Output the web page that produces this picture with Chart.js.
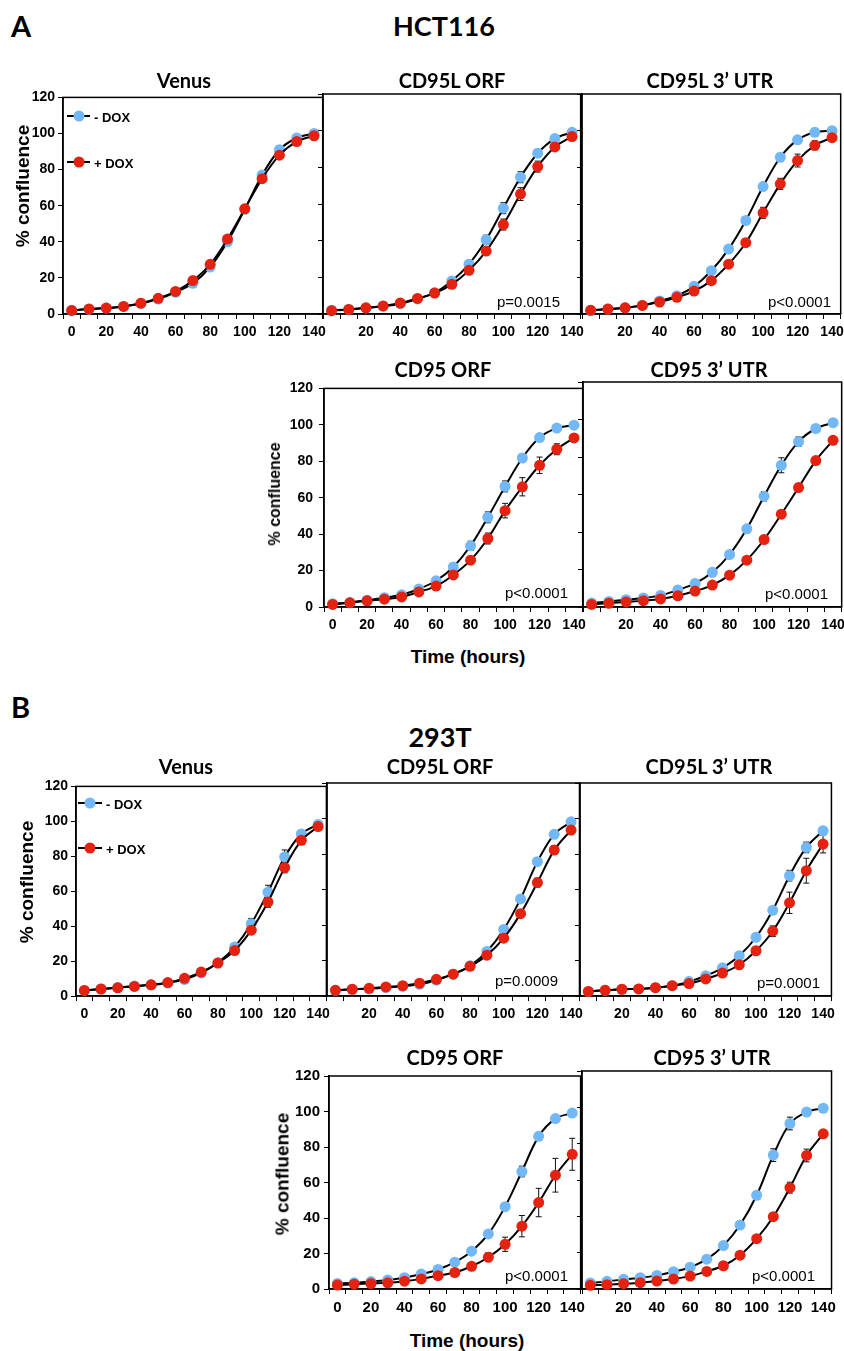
<!DOCTYPE html>
<html><head><meta charset="utf-8">
<script src="https://cdn.jsdelivr.net/npm/chart.js@4.4.0/dist/chart.umd.min.js"></script>
<style>
html,body{margin:0;padding:0;background:#fff;}
body{width:844px;height:1351px;position:relative;overflow:hidden;font-family:"Liberation Sans",Arial,sans-serif;color:#000;}
.t{position:absolute;white-space:nowrap;transform:translate(-50%,-50%);line-height:1;}
.l{position:absolute;white-space:nowrap;transform:translate(0,-50%);line-height:1;}
.hd{font-family:Lato,"Open Sans",sans-serif;font-weight:700;}
.yt{font-weight:700;transform:translate(-50%,-50%) rotate(-90deg);}
.pv{font-size:15px;}
.lg{font-weight:700;font-size:13px;}
.lgline{position:absolute;height:2px;background:#000;}
.lgdot{position:absolute;width:11px;height:11px;border-radius:50%;transform:translate(-50%,-50%);}
canvas{position:absolute;}
</style></head>
<body>
<script>
// ---------- data ----------
const times = [0,10,20,30,40,50,60,70,80,90,100,110,120,130,140];
const xTickLabels = ['0','20','40','60','80','100','120','140'];
const seriesNames = ['- DOX','+ DOX'];

// HCT116
const hctVenusMinus = [2.0,2.7,3.3,4.2,5.8,8.3,12.0,17.0,26.0,40.0,58.0,77.0,91.0,97.5,100.0];
const hctVenusPlus  = [2.0,2.8,3.3,4.2,6.0,8.7,12.5,18.5,27.5,41.5,58.3,75.0,88.0,95.5,98.7];
const hctVenusMinusErr = [0.3,0.3,0.3,0.4,0.5,0.6,0.8,1.0,1.2,1.5,1.5,1.8,1.5,1.0,0.6];
const hctVenusPlusErr  = [0.3,0.3,0.3,0.4,0.5,0.6,0.8,1.0,1.2,1.5,1.5,1.8,1.8,1.2,0.8];

const hctCD95LOrfMinus = [2.0,2.5,3.3,4.2,5.6,8.2,11.6,18.0,27.2,40.5,57.7,74.6,87.7,95.7,99.1];
const hctCD95LOrfPlus  = [1.8,2.5,3.4,4.4,6.0,8.5,11.4,16.2,23.8,34.3,48.8,65.4,80.4,91.1,96.8];
const hctCD95LOrfMinusErr = [0.3,0.3,0.3,0.4,0.5,0.6,0.8,1.0,1.5,2.5,3.0,3.0,2.0,1.0,0.6];
const hctCD95LOrfPlusErr  = [0.3,0.3,0.3,0.4,0.5,0.6,0.8,1.0,1.5,2.0,3.0,3.5,3.0,1.5,1.0];

const hctCD95LUtrMinus = [2.0,2.7,3.4,4.7,7.1,10.0,15.1,23.6,35.4,51.0,69.5,85.5,95.0,99.1,100.0];
const hctCD95LUtrPlus  = [2.0,2.7,3.4,4.7,6.5,9.1,12.5,18.2,27.2,38.9,55.2,71.0,83.7,92.0,96.2];
const hctCD95LUtrMinusErr = [0.3,0.3,0.3,0.4,0.5,0.6,0.8,1.0,1.5,2.0,2.0,2.0,1.0,0.6,0.5];
const hctCD95LUtrPlusErr  = [0.3,0.3,0.3,0.4,0.5,0.6,0.8,1.0,1.5,2.0,3.0,3.0,3.5,2.5,1.5];

const hctCD95OrfMinus = [1.8,2.5,3.7,5.1,6.7,9.9,14.4,22.0,33.6,49.2,66.2,81.8,93.0,98.2,99.8];
const hctCD95OrfPlus  = [1.4,2.3,3.4,4.3,5.5,8.3,11.5,17.6,25.7,37.6,52.9,66.0,77.8,86.6,92.8];
const hctCD95OrfMinusErr = [0.3,0.3,0.3,0.4,0.5,0.6,0.8,1.0,2.5,3.0,3.0,2.0,1.0,0.8,0.5];
const hctCD95OrfPlusErr  = [0.3,0.3,0.3,0.4,0.5,0.6,0.8,1.0,1.5,3.0,4.0,5.0,4.5,3.0,1.5];

const hctCD95UtrMinus = [2.1,3.0,3.9,4.8,6.2,9.1,12.6,18.5,28.0,41.7,59.1,75.6,88.2,95.2,98.3];
const hctCD95UtrPlus  = [1.4,2.0,2.7,3.4,4.3,6.0,8.5,11.7,17.0,25.0,36.0,49.5,63.7,78.1,88.9];
const hctCD95UtrMinusErr = [0.3,0.3,0.3,0.4,0.5,0.6,0.8,1.0,1.2,1.5,2.5,4.0,2.5,1.0,0.6];
const hctCD95UtrPlusErr  = [0.3,0.3,0.3,0.4,0.5,0.6,0.8,1.0,1.0,1.2,1.5,1.5,1.5,1.5,2.0];

// 293T
const t293VenusMinus = [3.2,4.0,4.9,5.7,6.4,7.5,9.4,13.2,19.0,28.0,41.4,59.4,79.6,92.8,98.2];
const t293VenusPlus  = [3.2,4.0,4.7,5.5,6.4,7.7,10.1,13.7,18.9,26.0,37.7,53.8,73.5,89.1,97.0];
const t293VenusMinusErr = [0.3,0.3,0.3,0.4,0.5,0.6,0.8,1.0,1.2,1.5,3.0,4.0,4.0,2.0,1.0];
const t293VenusPlusErr  = [0.3,0.3,0.3,0.4,0.5,0.6,0.8,1.0,1.2,1.5,2.0,3.0,3.0,2.0,1.5];

const t293CD95LOrfMinus = [3.2,3.8,4.0,4.7,5.5,6.6,8.9,12.3,17.0,25.1,37.5,54.7,75.7,91.1,98.1];
const t293CD95LOrfPlus  = [3.2,3.8,4.3,5.1,5.8,7.2,9.4,12.3,16.7,23.0,32.6,46.4,63.9,82.2,93.5];
const t293CD95LOrfMinusErr = [0.3,0.3,0.3,0.4,0.5,0.6,0.8,1.0,1.2,1.5,1.5,2.0,2.0,1.5,0.8];
const t293CD95LOrfPlusErr  = [0.3,0.3,0.3,0.4,0.5,0.6,0.8,1.0,1.2,1.5,1.5,2.0,2.5,2.5,1.5];

const t293CD95LUtrMinus = [2.6,3.2,3.8,4.0,4.7,5.8,8.1,11.4,15.9,22.7,33.1,48.3,67.8,83.7,93.1];
const t293CD95LUtrPlus  = [2.6,3.2,3.8,4.0,4.7,5.8,7.0,9.6,12.9,17.6,25.5,36.5,52.5,70.6,85.6];
const t293CD95LUtrMinusErr = [0.3,0.3,0.3,0.4,0.5,0.6,0.8,1.0,1.2,1.5,1.5,2.0,3.0,3.0,2.0];
const t293CD95LUtrPlusErr  = [0.3,0.3,0.3,0.4,0.5,0.6,0.8,1.0,1.2,1.5,2.0,3.0,6.0,7.0,5.0];

const t293CD95OrfMinus = [3.1,3.5,4.2,5.1,6.4,8.4,11.0,15.1,21.3,31.0,46.4,66.2,86.0,96.0,99.1];
const t293CD95OrfPlus  = [2.2,2.7,3.1,3.5,4.4,5.7,7.5,9.3,12.8,17.9,25.2,35.4,48.7,64.1,75.9];
const t293CD95OrfMinusErr = [0.3,0.3,0.3,0.4,0.5,0.6,0.8,1.0,1.2,1.5,1.5,3.0,1.5,1.0,0.8];
const t293CD95OrfPlusErr  = [0.3,0.3,0.3,0.4,0.5,0.6,0.8,1.0,1.2,2.5,4.0,6.0,8.0,9.5,9.0];

const t293CD95UtrMinus = [3.3,4.2,5.3,6.2,7.5,9.5,12.0,16.4,23.9,35.2,51.6,73.7,91.1,97.4,99.5];
const t293CD95UtrPlus  = [2.0,2.4,2.9,3.5,4.4,5.5,7.1,9.7,12.8,18.6,27.7,39.8,55.8,73.5,85.4];
const t293CD95UtrMinusErr = [0.3,0.3,0.3,0.4,0.5,0.6,0.8,1.0,1.2,1.5,2.0,3.5,3.5,2.0,1.0];
const t293CD95UtrPlusErr  = [0.3,0.3,0.3,0.4,0.5,0.6,0.8,1.0,1.2,1.5,1.5,2.0,3.0,3.5,2.0];

// ---------- layout (plot areas in page pixels) ----------
const BLUE = '#72B8F6';
const RED = '#E4220F';
const FONT = '"Liberation Sans", Arial, sans-serif';

const panels = [
  {l:63,  t:94,  r:323, b:314, yLab:true,  zero:true,  yPad:3, fs:14, m:hctVenusMinus, p:hctVenusPlus, me:hctVenusMinusErr, pe:hctVenusPlusErr},
  {l:323, t:94,  r:581, b:314, yLab:false, zero:false, yPad:3, fs:14, m:hctCD95LOrfMinus, p:hctCD95LOrfPlus, me:hctCD95LOrfMinusErr, pe:hctCD95LOrfPlusErr},
  {l:582, t:94,  r:841, b:314, yLab:false, zero:false, yPad:3, fs:14, m:hctCD95LUtrMinus, p:hctCD95LUtrPlus, me:hctCD95LUtrMinusErr, pe:hctCD95LUtrPlusErr},
  {l:324, t:382, r:583, b:607, yLab:true,  zero:true,  yPad:6, fs:14, m:hctCD95OrfMinus, p:hctCD95OrfPlus, me:hctCD95OrfMinusErr, pe:hctCD95OrfPlusErr},
  {l:583, t:382, r:842, b:607, yLab:false, zero:false, yPad:3, fs:14, m:hctCD95UtrMinus, p:hctCD95UtrPlus, me:hctCD95UtrMinusErr, pe:hctCD95UtrPlusErr},
  {l:76,  t:783, r:327, b:996, yLab:true,  zero:true,  yPad:3, fs:14, m:t293VenusMinus, p:t293VenusPlus, me:t293VenusMinusErr, pe:t293VenusPlusErr},
  {l:327, t:783, r:580, b:996, yLab:false, zero:false, yPad:3, fs:14, m:t293CD95LOrfMinus, p:t293CD95LOrfPlus, me:t293CD95LOrfMinusErr, pe:t293CD95LOrfPlusErr},
  {l:580, t:783, r:832, b:996, yLab:false, zero:false, yPad:3, fs:14, m:t293CD95LUtrMinus, p:t293CD95LUtrPlus, me:t293CD95LUtrMinusErr, pe:t293CD95LUtrPlusErr},
  {l:329, t:1071,r:582, b:1289,yLab:true,  zero:true,  yPad:4, fs:15, m:t293CD95OrfMinus, p:t293CD95OrfPlus, me:t293CD95OrfMinusErr, pe:t293CD95OrfPlusErr},
  {l:582, t:1071,r:833, b:1289,yLab:false, zero:false, yPad:3, fs:15, m:t293CD95UtrMinus, p:t293CD95UtrPlus, me:t293CD95UtrMinusErr, pe:t293CD95UtrPlusErr}
];

// ---------- plugins ----------
const errorBars = {
  id:'errorBars',
  beforeDatasetsDraw(chart){
    const c = chart.ctx, y = chart.scales.y;
    c.save();
    c.strokeStyle = '#111'; c.lineWidth = 1;
    chart.data.datasets.forEach((ds,i)=>{
      const meta = chart.getDatasetMeta(i);
      meta.data.forEach((pt,j)=>{
        const e = ds.errors[j], v = ds.data[j];
        const x = pt.x, y1 = y.getPixelForValue(v+e), y2 = y.getPixelForValue(v-e);
        c.beginPath();
        c.moveTo(x,y1); c.lineTo(x,y2);
        c.moveTo(x-3,y1); c.lineTo(x+3,y1);
        c.moveTo(x-3,y2); c.lineTo(x+3,y2);
        c.stroke();
      });
    });
    c.restore();
  }
};
const frame = {
  id:'frame',
  beforeDatasetsDraw(chart){
    const a = chart.chartArea, c = chart.ctx;
    c.save(); c.strokeStyle='#000'; c.lineWidth=1.5;
    c.strokeRect(a.left, a.top, a.right-a.left, a.bottom-a.top);
    c.restore();
  }
};

// ---------- build charts ----------
panels.forEach(P=>{
  const L = P.yLab ? 60 : 10, T = 8, R = 8, B = 34;
  const w = Math.round(P.r - P.l), h = Math.round(P.b - P.t);
  const cv = document.createElement('canvas');
  cv.width = w + L + R; cv.height = h + T + B;
  cv.style.left = (Math.round(P.l) - L) + 'px';
  cv.style.top = (Math.round(P.t) - T) + 'px';
  cv.style.width = cv.width + 'px'; cv.style.height = cv.height + 'px';
  document.body.appendChild(cv);
  const tickFont = {family:FONT, size:P.fs, weight:'bold'};
  new Chart(cv.getContext('2d'), {
    type:'line',
    data:{
      labels: times.map(String),
      datasets:[
        {label:seriesNames[0], data:P.m, errors:P.me, borderColor:'#000', borderWidth:2,
         pointBackgroundColor:BLUE, pointBorderColor:BLUE, pointBorderWidth:0, pointRadius:5.5,
         tension:0.35, order:1, clip:false},
        {label:seriesNames[1], data:P.p, errors:P.pe, borderColor:'#000', borderWidth:2,
         pointBackgroundColor:RED, pointBorderColor:RED, pointBorderWidth:0, pointRadius:5.5,
         tension:0.35, order:0, clip:false}
      ]
    },
    options:{
      responsive:false, animation:false, events:[], devicePixelRatio:1,
      layout:{padding:{top:T,right:R,left:0,bottom:0}, autoPadding:false},
      plugins:{legend:{display:false}, tooltip:{enabled:false}, title:{display:false}},
      scales:{
        x:{type:'category', offset:true,
           grid:{offset:true, drawOnChartArea:false, drawTicks:true, tickLength:5, color:'#000', lineWidth:1},
           border:{display:true, color:'#000', width:1.5},
           ticks:{autoSkip:false, maxRotation:0, minRotation:0, padding:5, color:'#000', font:tickFont,
             callback:(v,i)=>{ if(i%2) return ''; if(i===0 && !P.zero) return ''; return xTickLabels[i/2]; }},
           afterFit:s=>{ s.height = B; }},
        y:{min:0, max:120,
           grid:{drawOnChartArea:false, drawTicks:true, tickLength:5, color:'#000', lineWidth:1},
           border:{display:true, color:'#000', width:1.5},
           ticks:{stepSize:20, display:P.yLab, padding:P.yPad, color:'#000', font:tickFont},
           afterFit:s=>{ s.width = L; }}
      }
    },
    plugins:[frame, errorBars]
  });
});

// ---------- texts ----------
function txt(cls, s, x, y, style){
  const d = document.createElement('div');
  d.className = cls; d.textContent = s;
  d.style.left = x + 'px'; d.style.top = y + 'px';
  if (style) d.style.cssText += style;
  document.body.appendChild(d);
}
// headers
txt('l hd','A',11,25,'font-size:29px;');
txt('t hd','HCT116',444,25,'font-size:27px;');
txt('l hd','B',11,706,'font-size:29px;');
txt('t hd','293T',440,736,'font-size:27px;');
// panel titles
const titleFont = 'font-size:20px;';
[['Venus',184,80],['CD95L ORF',452,80],['CD95L 3\u2019 UTR',710,80],
 ['CD95 ORF',443,369],['CD95 3\u2019 UTR',709,369],
 ['Venus',186,766],['CD95L ORF',440,766],['CD95L 3\u2019 UTR',709,766],
 ['CD95 ORF',455,1057],['CD95 3\u2019 UTR',712,1057]].forEach(a=>txt('t hd',a[0],a[1],a[2],titleFont));
// y titles
txt('t yt','% confluence',22,186,'font-size:19px;');
txt('t yt','% confluence',275,494,'font-size:16px;');
txt('t yt','% confluence',26,882,'font-size:19px;');
txt('t yt','% confluence',282,1174,'font-size:19px;');
// x titles
txt('t','Time (hours)',468,656,'font-size:19px;font-weight:700;');
txt('t','Time (hours)',467,1340,'font-size:19px;font-weight:700;');
// p values
[['p=0.0015',497,301],['p<0.0001',768,301],['p<0.0001',505,592],['p<0.0001',765,593],
 ['p=0.0009',495,980],['p=0.0001',757,982],['p<0.0001',505,1275],['p<0.0001',752,1275]]
 .forEach(a=>txt('l pv',a[0],a[1],a[2]));
// legends
function legend(x0,x1,y,color,label){
  const ln = document.createElement('div'); ln.className='lgline';
  ln.style.left=x0+'px'; ln.style.top=(y-1)+'px'; ln.style.width=(x1-x0)+'px';
  document.body.appendChild(ln);
  const dt = document.createElement('div'); dt.className='lgdot';
  dt.style.left=((x0+x1)/2)+'px'; dt.style.top=y+'px'; dt.style.background=color;
  document.body.appendChild(dt);
  txt('l lg',label,x1+4,y+1);
}
legend(67,90,116,BLUE,seriesNames[0]);
legend(67,90,162,RED,seriesNames[1]);
legend(78,102,803,BLUE,seriesNames[0]);
legend(78,102,848,RED,seriesNames[1]);
</script>
</body></html>
